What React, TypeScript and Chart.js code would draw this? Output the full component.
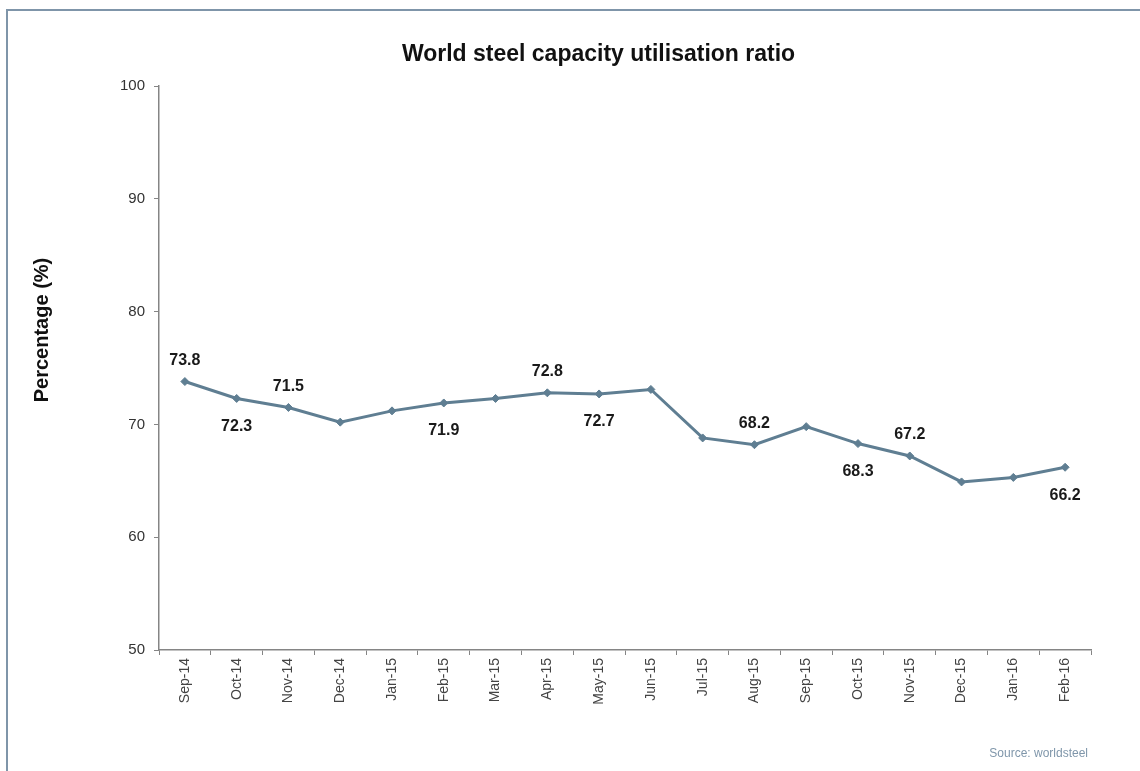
import React, { useEffect, useRef } from "react";
import { Chart, registerables } from "chart.js";

Chart.register(...registerables);

const categories = [
  "Sep-14", "Oct-14", "Nov-14", "Dec-14", "Jan-15", "Feb-15", "Mar-15", "Apr-15", "May-15",
  "Jun-15", "Jul-15", "Aug-15", "Sep-15", "Oct-15", "Nov-15", "Dec-15", "Jan-16", "Feb-16",
];
const utilisation = [
  73.8, 72.3, 71.5, 70.2, 71.2, 71.9, 72.3, 72.8, 72.7,
  73.1, 68.8, 68.2, 69.8, 68.3, 67.2, 64.9, 65.3, 66.2,
];
const yTickValues = [50, 60, 70, 80, 90, 100];
const labelsAbove = [0, 2, 7, 11, 14];
const labelsBelow = [1, 5, 8, 13, 17];
const titleText = "World steel capacity utilisation ratio";
const yAxisTitle = "Percentage (%)";
const sourceText = "Source: worldsteel";

const FONT = '"Liberation Sans", Arial, Helvetica, sans-serif';
const LINE_COLOR = "#5f7e92";
const AXIS_COLOR = "#858585";

const annotationsPlugin = {
  id: "annotations",
  afterDatasetsDraw(chart: any) {
    const ctx = chart.ctx as CanvasRenderingContext2D;
    const meta = chart.getDatasetMeta(0);
    ctx.save();
    ctx.font = `bold 16px ${FONT}`;
    ctx.fillStyle = "#1a1a1a";
    ctx.textAlign = "center";
    ctx.textBaseline = "middle";
    labelsAbove.forEach((i) => {
      const p = meta.data[i];
      ctx.fillText(utilisation[i].toFixed(1), p.x, p.y - 21);
    });
    labelsBelow.forEach((i) => {
      const p = meta.data[i];
      ctx.fillText(utilisation[i].toFixed(1), p.x, p.y + 28);
    });
    ctx.restore();

    // chart title
    ctx.save();
    ctx.font = `bold 23px ${FONT}`;
    ctx.fillStyle = "#111";
    ctx.textAlign = "center";
    ctx.textBaseline = "middle";
    ctx.fillText(titleText, 598.5, 55);
    ctx.restore();

    // y-axis title
    ctx.save();
    ctx.translate(42, 330);
    ctx.rotate(-Math.PI / 2);
    ctx.font = `bold 20px ${FONT}`;
    ctx.fillStyle = "#111";
    ctx.textAlign = "center";
    ctx.textBaseline = "middle";
    ctx.fillText(yAxisTitle, 0, 0);
    ctx.restore();

    // source
    ctx.save();
    ctx.font = `12px ${FONT}`;
    ctx.fillStyle = "#7f96aa";
    ctx.textAlign = "right";
    ctx.textBaseline = "middle";
    ctx.fillText(sourceText, 1088, 754);
    ctx.restore();
  },
};

export default function App() {
  const canvasRef = useRef<HTMLCanvasElement | null>(null);

  useEffect(() => {
    if (!canvasRef.current) return;
    const chart = new Chart(canvasRef.current, {
      type: "line",
      data: {
        labels: categories,
        datasets: [
          {
            data: utilisation,
            borderColor: LINE_COLOR,
            backgroundColor: LINE_COLOR,
            borderWidth: 3,
            pointStyle: "rectRot",
            pointRadius: 4,
            pointBackgroundColor: LINE_COLOR,
            pointBorderColor: LINE_COLOR,
            pointBorderWidth: 1,
            tension: 0,
            fill: false,
          },
        ],
      },
      options: {
        responsive: false,
        maintainAspectRatio: false,
        devicePixelRatio: 1,
        animation: false,
        layout: { padding: { left: 0, right: 49, top: 86, bottom: 0 } },
        plugins: {
          legend: { display: false },
          tooltip: { enabled: false },
          title: { display: false },
        },
        scales: {
          x: {
            type: "category",
            offset: true,
            grid: {
              display: true,
              drawOnChartArea: false,
              drawTicks: true,
              tickLength: 5,
              color: AXIS_COLOR,
              offset: true,
            },
            border: { display: true, color: AXIS_COLOR, width: 1.5 },
            ticks: {
              autoSkip: false,
              minRotation: 90,
              maxRotation: 90,
              padding: 3,
              color: "#444",
              font: { family: FONT, size: 14 },
            },
            afterFit: (s: any) => {
              s.height = 121;
            },
          },
          y: {
            min: 50,
            max: 100,
            grid: {
              display: true,
              drawOnChartArea: false,
              drawTicks: true,
              tickLength: 5,
              color: AXIS_COLOR,
            },
            border: { display: true, color: AXIS_COLOR, width: 1.5 },
            ticks: {
              padding: 9,
              color: "#333",
              font: { family: FONT, size: 15 },
            },
            afterBuildTicks: (s: any) => {
              s.ticks = yTickValues.map((v) => ({ value: v }));
            },
            afterFit: (s: any) => {
              s.width = 159;
            },
          },
        },
      },
      plugins: [annotationsPlugin],
    });
    return () => chart.destroy();
  }, []);

  return (
    <div style={{ position: "absolute", left: 0, top: 0, width: 1140, height: 771, background: "#fff" }}>
      <canvas ref={canvasRef} width={1140} height={771} style={{ display: "block" }} />
      <div
        style={{
          position: "absolute",
          left: 6,
          top: 9,
          width: 1134,
          height: 762,
          boxSizing: "border-box",
          borderTop: "2px solid #7f95a9",
          borderLeft: "2px solid #7f95a9",
          pointerEvents: "none",
        }}
      />
    </div>
  );
}
